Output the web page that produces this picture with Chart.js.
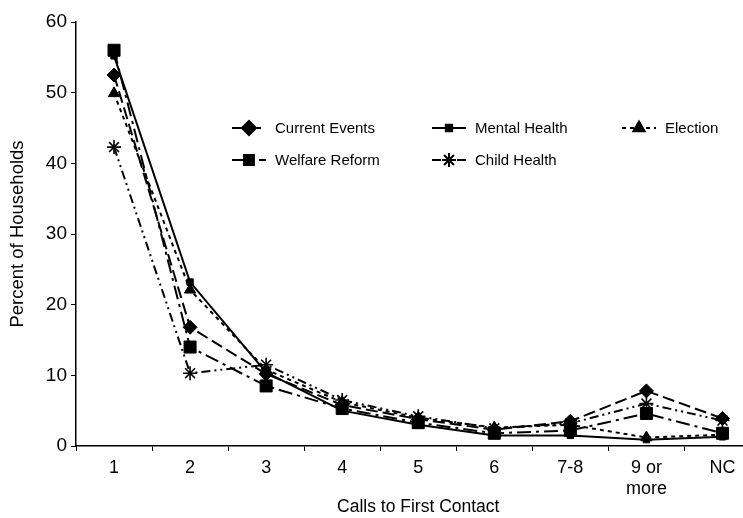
<!DOCTYPE html>
<html>
<head>
<meta charset="utf-8">
<script src="https://cdn.jsdelivr.net/npm/chart.js@4/dist/chart.umd.min.js"></script>
<style>
  html, body { margin: 0; padding: 0; background: #fff; overflow: hidden; }
  #wrap { position: relative; width: 770px; height: 518px; }
</style>
</head>
<body>
<div id="wrap"><canvas id="chart" width="770" height="518"></canvas></div>
<script>
// Calls made before first contact, by survey topic
const categories = ['1', '2', '3', '4', '5', '6', '7-8', ['9 or', 'more'], 'NC'];
const yTicks = [0, 10, 20, 30, 40, 50, 60];

const currentEvents = [52.5, 16.8, 10.2, 5.8, 3.8, 2.3, 3.5, 7.8, 3.9];
const mentalHealth  = [55.2, 23.2, 10.4, 5.0, 3.0, 1.5, 1.5, 0.9, 1.3];
const election      = [49.9, 22.1, 10.8, 6.2, 4.0, 2.6, 3.0, 1.2, 1.6];
const welfareReform = [56.0, 14.0, 8.5, 5.3, 3.3, 1.8, 2.2, 4.6, 1.8];
const childHealth   = [42.3, 10.3, 11.5, 6.5, 4.2, 2.5, 3.2, 6.0, 3.6];

const FONT = '"Liberation Sans", Arial, sans-serif';

function series(label, data, dash, style, radius) {
  return {
    label, data,
    borderColor: '#000', backgroundColor: '#000',
    borderWidth: 2, borderDash: dash,
    pointStyle: style, pointRadius: radius, pointHoverRadius: radius,
    pointBorderColor: '#000', pointBackgroundColor: '#000',
    pointBorderWidth: style === 'star' ? 1.6 : 1,
    tension: 0, fill: false
  };
}

const datasets = [
  series('Current Events', currentEvents, [12, 5], 'rectRot', 7),
  series('Mental Health', mentalHealth, [], 'rect', 4.5),
  series('Election', election, [4, 4], 'triangle', 6.5),
  series('Welfare Reform', welfareReform, [14, 5, 3, 5], 'rect', 8.5),
  series('Child Health', childHealth, [9, 4, 2, 4, 2, 4], 'star', 7)
];

// Two-row legend drawn inside the plot area
const legendItems = [
  { idx: 0, x: 232, y: 128 },
  { idx: 1, x: 432, y: 128 },
  { idx: 2, x: 622, y: 128 },
  { idx: 3, x: 232, y: 160 },
  { idx: 4, x: 432, y: 160 }
];

const insideLegend = {
  id: 'insideLegend',
  afterDraw(chart) {
    const ctx = chart.ctx;
    ctx.save();
    legendItems.forEach(it => {
      const ds = chart.data.datasets[it.idx];
      const x0 = it.x, x1 = it.x + 34, cx = (x0 + x1) / 2;
      ctx.strokeStyle = '#000';
      ctx.lineWidth = 2;
      ctx.setLineDash(ds.borderDash);
      ctx.beginPath();
      ctx.moveTo(x0, it.y);
      ctx.lineTo(x1, it.y);
      ctx.stroke();
      ctx.setLineDash([]);
      Chart.helpers.drawPoint(ctx, {
        pointStyle: ds.pointStyle,
        radius: Math.min(ds.pointRadius, 7),
        borderWidth: ds.pointBorderWidth,
        rotation: 0
      }, cx, it.y);
      ctx.fillStyle = '#000';
      ctx.font = '15px ' + FONT;
      ctx.textBaseline = 'middle';
      ctx.textAlign = 'left';
      ctx.fillText(ds.label, x1 + 9, it.y + 1);
    });
    ctx.restore();
  }
};

new Chart(document.getElementById('chart'), {
  type: 'line',
  data: { labels: categories, datasets },
  options: {
    responsive: false,
    animation: false,
    layout: { padding: { left: 0, right: 5, top: 22, bottom: 0 } },
    plugins: { legend: { display: false }, tooltip: { enabled: false } },
    elements: { line: { borderCapStyle: 'butt' } },
    scales: {
      x: {
        type: 'category',
        offset: true,
        border: { display: true, color: '#000', width: 1.5 },
        grid: { display: true, offset: true, drawOnChartArea: false, drawTicks: true, tickLength: 5, color: '#000' },
        ticks: { color: '#000', font: { family: FONT, size: 18, lineHeight: 1.15 }, padding: 7, maxRotation: 0, autoSkip: false },
        title: { display: true, text: 'Calls to First Contact', color: '#000', font: { family: FONT, size: 17.5 }, padding: { top: 2, bottom: 0 } },
        afterFit(scale) { scale.height = 72; }
      },
      y: {
        min: 0, max: 60,
        afterBuildTicks(scale) { scale.ticks = yTicks.map(v => ({ value: v })); },
        border: { display: true, color: '#000', width: 1.5 },
        grid: { display: true, drawOnChartArea: false, drawTicks: true, tickLength: 5, color: '#000' },
        ticks: { color: '#000', font: { family: FONT, size: 19 }, padding: 4 },
        title: { display: true, text: 'Percent of Households', color: '#000', font: { family: FONT, size: 18.5 }, padding: { top: 7, bottom: 4 } },
        afterFit(scale) { scale.width = 76; }
      }
    }
  },
  plugins: [insideLegend]
});
</script>
</body>
</html>
